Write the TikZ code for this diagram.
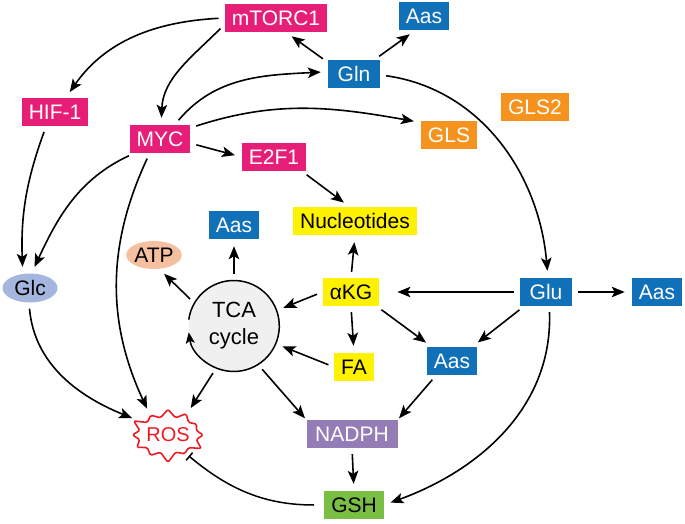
\documentclass[tikz,border=0pt]{standalone}
\usepackage{fontspec}
\setmainfont{Liberation Sans}
\usetikzlibrary{arrows.meta,shapes.geometric,shapes.symbols}
\definecolor{regpink}{RGB}{231,30,120}
\definecolor{aablue}{RGB}{17,113,184}
\definecolor{glsorange}{RGB}{246,147,30}
\definecolor{metyellow}{RGB}{255,242,0}
\definecolor{nadphpurple}{RGB}{148,124,182}
\definecolor{gshgreen}{RGB}{122,190,67}
\definecolor{glcblue}{RGB}{165,182,222}
\definecolor{atppeach}{RGB}{244,192,160}
\definecolor{tcagray}{RGB}{240,240,240}
\definecolor{rosred}{RGB}{236,28,36}
\begin{document}
\begin{tikzpicture}[x=1pt,y=1pt,
	box/.style={rectangle,inner xsep=7pt,inner ysep=0pt,minimum height=28pt,
		font=\fontsize{21}{25}\selectfont,text=white},
	regbox/.style={box,fill=regpink},
	aabox/.style={box,fill=aablue},
	glsbox/.style={box,fill=glsorange},
	metbox/.style={box,fill=metyellow,text=black},
	oval/.style={ellipse,inner sep=0pt,minimum width=55pt,minimum height=28pt,
		font=\fontsize{21}{25}\selectfont},
	arr/.style={-{Stealth[length=13pt,width=10.5pt,inset=3pt]},line width=1.6pt,
		shorten <=6pt,shorten >=7pt},
	]
	\useasboundingbox (0,0) rectangle (685,-524);
	% nodes
	\node[regbox] (mtorc) at (276,-18) {mTORC1};
	\node[aabox] (aastop) at (424,-16) {Aas};
	\node[aabox,minimum width=52pt] (gln) at (354,-74) {Gln};
	\node[regbox] (hif) at (55,-112) {HIF-1};
	\node[regbox] (myc) at (160,-139) {MYC};
	\node[regbox] (e2f) at (274,-157) {E2F1};
	\node[glsbox] (gls2) at (535,-107) {GLS2};
	\node[glsbox] (gls) at (449,-135) {GLS};
	\node[metbox] (nuc) at (355,-221) {Nucleotides};
	\node[aabox] (aastca) at (234,-225) {Aas};
	\node[oval,fill=atppeach] (atp) at (154,-255) {ATP};
	\node[oval,fill=glcblue,minimum height=29pt] (glc) at (30,-288) {Glc};
	\node[circle,fill=tcagray,minimum size=91pt,inner sep=0pt,align=center,
		font=\fontsize{22}{27}\selectfont] (tca) at (234,-326) {TCA\\cycle};
	\node[metbox] (akg) at (351,-292) {αKG};
	\node[metbox] (fa) at (354,-367) {FA};
	\node[aabox,minimum width=52pt] (glu) at (546,-292) {Glu};
	\node[aabox] (aasright) at (657,-292) {Aas};
	\node[aabox] (aasmid) at (452,-361) {Aas};
	\node[box,fill=nadphpurple,minimum width=91pt] (nadph) at (352,-434) {NADPH};
	\node[box,fill=gshgreen,text=black] (gsh) at (354,-505) {GSH};
	\node[starburst,starburst points=12,starburst point height=11pt,draw=rosred,
		line width=1.6pt,fill=white,text=rosred,inner xsep=-1pt,inner ysep=5.5pt,
		rounded corners=1.5pt,font=\fontsize{20}{24}\selectfont] (ros) at (168,-435) {ROS};
	% TCA cycle outline
	\draw[line width=1.5pt,-{Stealth[length=11pt,width=9pt,inset=2.5pt]}]
		(tca.172) arc[start angle=172,end angle=-172,radius=45.5pt];
	% signalling
	\draw[arr] (mtorc.180) to[out=183,in=55] (hif.53);
	\draw[arr] (mtorc.187) to[out=225,in=88] (myc.85);
	\draw[arr] (gln.156) -- (mtorc.305);
	\draw[arr] (gln.35) -- (aastop.239);
	\draw[arr] (myc.44) to[out=50,in=183] (gln.175);
	\draw[arr] (myc.20) to[out=18,in=170] (gls.156);
	\draw[arr] (myc.352) -- (e2f.180);
	\draw[arr] (e2f.-27) -- (nuc.111);
	\draw[arr] (hif.238) to[out=250,in=92] (glc.117);
	\draw[arr] (myc.209) to[out=205,in=65] (glc.84);
	\draw[arr] (myc.234) to[out=245,in=115] (ros.132);
	\draw[arr] (glc.266) to[out=275,in=158] (ros.154);
	% glutamine metabolism
	\draw[arr] (gln.358) to[out=-8,in=95] (glu.82);
	\draw[arr,shorten >=18pt] (glu.west) -- (akg.east);
	\draw[arr] (glu.east) -- (aasright.west);
	\draw[arr] (glu.213) -- (aasmid.35);
	\draw[arr] (akg.331) -- (aasmid.145);
	\draw[arr] (akg.north) -- (nuc.south);
	\draw[arr] (akg.south) -- (fa.north);
	\draw[arr] (akg.west) -- (tca.20);
	\draw[arr] (fa.west) -- (tca.337);
	\draw[arr] (tca.150) -- (atp.290);
	\draw[arr] (tca.north) -- (aastca.south);
	\draw[arr] (tca.247) -- (ros.48);
	\draw[arr,shorten >=2pt] (tca.302) -- (nadph.north west);
	\draw[arr,shorten >=2pt] (aasmid.222) -- (nadph.north east);
	\draw[arr] (nadph.south) -- (gsh.north);
	\draw[arr] (glu.283) to[out=272,in=20] (gsh.east);
	\draw[line width=1.5pt,-{Bar[width=10pt]},shorten <=10pt,shorten >=4pt]
		(gsh.west) to[out=180,in=320] (ros.314);
\end{tikzpicture}
\end{document}
